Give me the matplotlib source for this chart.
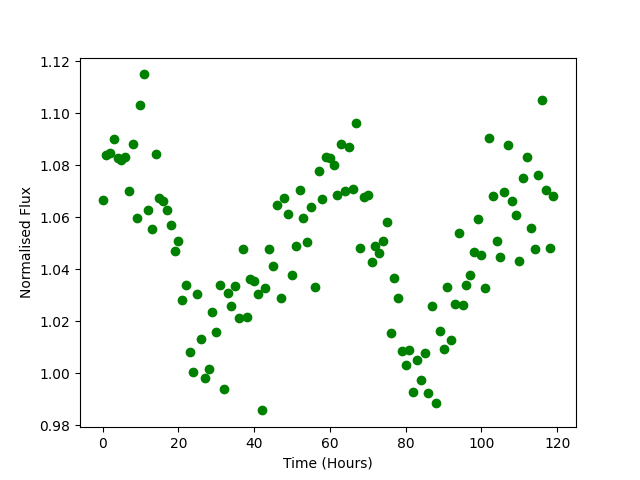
import matplotlib
matplotlib.use("Agg")
import matplotlib.pyplot as plt
import numpy as np

hours = np.arange(0, 120)
flux = [
    1.0665, 1.0838, 1.0846, 1.0900, 1.0827, 1.0820, 1.0830, 1.0700, 1.0880, 1.0595,
    1.1030, 1.1149, 1.0626, 1.0556, 1.0842, 1.0672, 1.0664, 1.0626, 1.0568, 1.0470,
    1.0507, 1.0283, 1.0338, 1.0080, 1.0003, 1.0304, 1.0133, 0.9983, 1.0018, 1.0237,
    1.0160, 1.0341, 0.9941, 1.0307, 1.0260, 1.0335, 1.0212, 1.0476, 1.0218, 1.0361,
    1.0353, 1.0303, 0.9857, 1.0327, 1.0476, 1.0414, 1.0645, 1.0291, 1.0672, 1.0614,
    1.0376, 1.0491, 1.0703, 1.0595, 1.0503, 1.0641, 1.0330, 1.0776, 1.0668, 1.0831,
    1.0827, 1.0799, 1.0687, 1.0883, 1.0699, 1.0868, 1.0707, 1.0964, 1.0480, 1.0676,
    1.0687, 1.0426, 1.0488, 1.0464, 1.0507, 1.0583, 1.0153, 1.0368, 1.0291, 1.0085,
    1.0030, 1.0091, 0.9926, 1.0050, 0.9972, 1.0077, 0.9922, 1.0258, 0.9887, 1.0162,
    1.0095, 1.0331, 1.0126, 1.0268, 1.0541, 1.0264, 1.0338, 1.0379, 1.0468, 1.0592,
    1.0453, 1.0327, 1.0903, 1.0680, 1.0510, 1.0446, 1.0695, 1.0876, 1.0662, 1.0610,
    1.0433, 1.0749, 1.0833, 1.0560, 1.0476, 1.0764, 1.1049, 1.0704, 1.0483, 1.0680,
]

plt.figure(figsize=(6.4, 4.8), dpi=100)
plt.plot(hours, flux, "go")
plt.xlabel("Time (Hours)")
plt.ylabel("Normalised Flux")
plt.savefig("out.png")
